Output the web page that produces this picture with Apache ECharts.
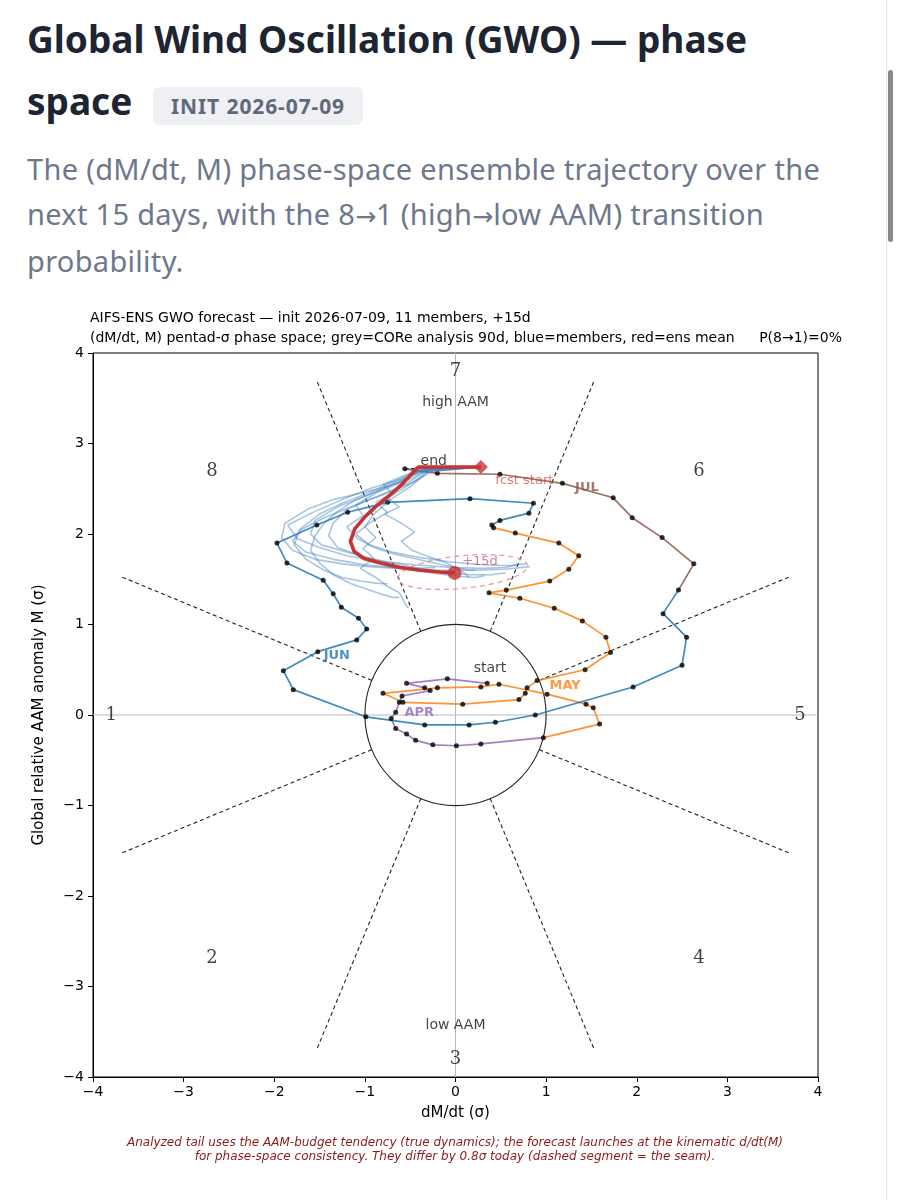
<!DOCTYPE html>
<html>
<head>
<meta charset="utf-8">
<script src="https://cdn.jsdelivr.net/npm/echarts@6/dist/echarts.min.js"></script>
<style>
html, body { margin: 0; padding: 0; background: #fff; }
body { width: 900px; height: 1200px; position: relative; overflow: hidden; font-family: 'Noto Sans', sans-serif; }
.title { position: absolute; left: 27px; top: 8px; font-size: 37px; font-weight: 700; line-height: 62px; color: #1d2432; white-space: nowrap; }
.badge { position: absolute; left: 153px; top: 87px; width: 210px; height: 38px; border-radius: 7px; background: #eef0f4; color: #5f697c; font-size: 21px; font-weight: 700; line-height: 38px; text-align: center; letter-spacing: 0.9px; }
.sub { position: absolute; left: 27px; top: 147px; font-size: 29px; line-height: 44.5px; color: #6e788c; white-space: nowrap; letter-spacing: 0.3px; }
.sub .ar { font-family: 'DejaVu Sans', sans-serif; font-size: 25px; letter-spacing: 0; }
#chart { position: absolute; left: 0; top: 290px; width: 885px; height: 910px; }
.track { position: absolute; left: 886px; top: 0; width: 1px; height: 1200px; background: #e2e2e2; }
.thumb { position: absolute; left: 888px; top: 70px; width: 5px; height: 172px; border-radius: 3px; background: #8a8a8a; }
</style>
</head>
<body>
<div class="title">Global Wind Oscillation (GWO) — phase<br>space</div>
<div class="badge">INIT 2026-07-09</div>
<div class="sub">The (dM/dt, M) phase-space ensemble trajectory over the<br>next 15 days, with the 8<span class="ar">→</span>1 (high<span class="ar">→</span>low AAM) transition<br>probability.</div>
<div id="chart"></div>
<div class="track"></div><div class="thumb"></div>
<script>
// analysed CORe tail, one point per day, split by month (dM/dt, M)
const aprPts = [[0.35,0.35],[-0.09,0.40],[-0.54,0.35],[-0.34,0.30],[-0.28,0.27],[-0.59,0.21],[-0.62,0.14],[-0.66,0.03],
    [-0.71,-0.04],[-0.66,-0.15],[-0.54,-0.21],[-0.44,-0.28],[-0.25,-0.33],[0.01,-0.34],[0.28,-0.32],[0.97,-0.25]];
const mayPts = [[1.59,-0.10],[1.52,0.08],[1.44,0.12],[1.01,0.23],[0.48,0.34],[0.28,0.31],[-0.20,0.30],[-0.80,0.24],
    [-0.58,0.14],[0.08,0.12],[0.70,0.17],[0.77,0.24],[0.79,0.30],[0.90,0.38],[1.43,0.50],[1.71,0.69],[1.66,0.86],
    [1.40,1.04],[1.09,1.18],[0.71,1.29],[0.37,1.35],[0.56,1.38],[1.04,1.48],[1.25,1.61],[1.36,1.76],[1.14,1.90],
    [0.66,2.01],[0.42,2.07],[0.40,2.10]];
const junPts = [[0.49,2.15],[0.81,2.23],[0.86,2.34],[0.16,2.39],[-0.75,2.35],[-1.19,2.24],[-1.53,2.10],[-1.97,1.90],
    [-1.86,1.68],[-1.46,1.49],[-1.35,1.34],[-1.26,1.19],[-1.07,1.07],[-0.98,0.95],[-1.09,0.83],[-1.52,0.70],
    [-1.90,0.49],[-1.79,0.28],[-0.99,-0.02],[-0.34,-0.11],[0.15,-0.11],[0.44,-0.08],[0.88,0.00],[1.96,0.31],
    [2.50,0.55],[2.55,0.86],[2.29,1.12],[2.46,1.38]];
const julPts = [[2.63,1.67],[2.28,1.96],[1.95,2.18],[1.74,2.40],[1.18,2.56],[0.49,2.66],[-0.20,2.67],[-0.56,2.72]];

// forecast: ensemble mean + 11 members, day 0..15
const fcstStart = [0.28, 2.74];
const ensMean = [[0.28,2.74],[-0.41,2.74],[-0.48,2.67],[-0.58,2.56],[-0.71,2.44],[-0.86,2.32],[-0.99,2.20],[-1.11,2.06],
    [-1.16,1.92],[-1.12,1.81],[-1.01,1.73],[-0.83,1.68],[-0.61,1.63],[-0.39,1.60],[-0.17,1.58],[-0.01,1.57]];
const member01 = [[0.28,2.74],[-0.30,2.72],[-0.55,2.55],[-0.85,2.42],[-1.15,2.30],[-1.45,2.18],[-1.70,2.05],[-1.80,1.92],[-1.65,1.80],[-1.35,1.72],[-1.00,1.66],[-0.60,1.62],[-0.20,1.60],[0.20,1.60],[0.55,1.61],[0.82,1.64]];
const member02 = [[0.28,2.74],[-0.35,2.70],[-0.62,2.60],[-0.95,2.50],[-1.25,2.38],[-1.55,2.25],[-1.85,2.10],[-1.75,1.95],[-1.50,1.85],[-1.20,1.76],[-0.85,1.70],[-0.45,1.66],[-0.05,1.63],[0.30,1.62],[0.55,1.63],[0.68,1.66]];
const member03 = [[0.28,2.74],[-0.25,2.70],[-0.45,2.58],[-0.70,2.47],[-0.95,2.38],[-1.20,2.27],[-1.35,2.12],[-1.40,1.98],[-1.30,1.85],[-1.05,1.76],[-0.75,1.69],[-0.45,1.63],[-0.15,1.58],[0.15,1.55],[0.40,1.55],[0.55,1.57]];
const member04 = [[0.28,2.74],[-0.40,2.68],[-0.70,2.55],[-0.98,2.42],[-1.30,2.30],[-1.55,2.15],[-1.60,2.00],[-1.48,1.88],[-1.20,1.80],[-0.95,1.73],[-0.70,1.66],[-0.45,1.60],[-0.20,1.56],[0.05,1.53],[0.22,1.52],[0.32,1.54]];
const member05 = [[0.28,2.74],[-0.30,2.69],[-0.50,2.52],[-0.72,2.38],[-0.90,2.22],[-1.00,2.08],[-0.88,1.96],[-1.02,1.84],[-0.90,1.73],[-1.05,1.62],[-0.88,1.52],[-0.75,1.42],[-0.62,1.35],[-0.58,1.28],[-0.55,1.22],[-0.52,1.18]];
const member06 = [[0.28,2.74],[-0.38,2.71],[-0.60,2.58],[-0.85,2.48],[-1.10,2.38],[-1.30,2.25],[-1.45,2.12],[-1.55,1.98],[-1.60,1.82],[-1.50,1.68],[-1.35,1.55],[-1.15,1.45],[-0.95,1.38],[-0.80,1.33],[-0.70,1.30],[-0.62,1.30]];
const member07 = [[0.28,2.74],[-0.28,2.73],[-0.40,2.62],[-0.58,2.50],[-0.75,2.40],[-0.62,2.30],[-0.78,2.22],[-0.60,2.12],[-0.45,2.02],[-0.60,1.92],[-0.48,1.82],[-0.30,1.75],[-0.10,1.68],[0.05,1.60],[0.12,1.55],[0.15,1.52]];
const member08 = [[0.28,2.74],[-0.33,2.70],[-0.52,2.60],[-0.78,2.52],[-1.05,2.45],[-1.35,2.38],[-1.62,2.28],[-1.88,2.12],[-1.92,1.96],[-1.80,1.82],[-1.55,1.72],[-1.25,1.67],[-0.95,1.64],[-0.65,1.62],[-0.40,1.62],[-0.22,1.63]];
const member09 = [[0.28,2.74],[-0.36,2.72],[-0.58,2.64],[-0.80,2.55],[-0.70,2.45],[-0.88,2.35],[-0.75,2.24],[-0.95,2.12],[-1.10,2.00],[-0.95,1.88],[-0.70,1.80],[-0.40,1.74],[-0.05,1.69],[0.30,1.66],[0.58,1.65],[0.78,1.67]];
const member10 = [[0.28,2.74],[-0.42,2.70],[-0.68,2.58],[-0.95,2.46],[-1.25,2.34],[-1.50,2.22],[-1.72,2.05],[-1.78,1.88],[-1.65,1.72],[-1.45,1.60],[-1.25,1.52],[-1.05,1.48],[-0.90,1.46],[-0.80,1.45],[-0.78,1.44],[-0.75,1.45]];
const member11 = [[0.28,2.74],[-0.30,2.74],[-0.48,2.66],[-0.65,2.55],[-0.88,2.45],[-1.10,2.32],[-1.02,2.20],[-1.20,2.08],[-1.08,1.95],[-0.90,1.85],[-0.68,1.78],[-0.42,1.72],[-0.15,1.66],[0.05,1.62],[0.15,1.60],[0.22,1.60]];
const members = [member01, member02, member03, member04, member05, member06, member07, member08, member09, member10, member11];

// +15d spread ellipse: centre x, centre y, half-width, half-height (sigma)
const spread15d = [0.08, 1.58, 0.72, 0.18];

// phase diagram furniture
const sectorAngles = [22.5, 67.5, 112.5, 157.5, 202.5, 247.5, 292.5, 337.5];
const phaseNames = ['1', '2', '3', '4', '5', '6', '7', '8'];
const phaseAngles = [180, 225, 270, 315, 0, 45, 90, 135];
const monthNames = ['APR', 'MAY', 'JUN', 'JUL'];
const monthColors = ['#9467bd', '#ff7f0e', '#1f77b4', '#8c564b'];
const monthLabelAt = [[-0.40, 0.03], [1.21, 0.33], [-1.31, 0.66], [1.45, 2.51]];
const axisTicks = [-4, -3, -2, -1, 0, 1, 2, 3, 4];

const FONT = "'DejaVu Sans', sans-serif";
const minus = v => v < 0 ? '\u2212' + Math.abs(v) : String(v);

const chart = echarts.init(document.getElementById('chart'), null, {renderer: 'canvas'});

const monthSegs = [aprPts, mayPts, junPts, julPts];
const analysisAll = [].concat(...monthSegs);
const series = [];

// zero lines
series.push({type: 'line', data: [[axisTicks[0], 0], [axisTicks.at(-1), 0]], showSymbol: false, silent: true,
    lineStyle: {color: '#b8b8b8', width: 1}, z: 1});
series.push({type: 'line', data: [[0, axisTicks[0]], [0, axisTicks.at(-1)]], showSymbol: false, silent: true,
    lineStyle: {color: '#b8b8b8', width: 1}, z: 1});

// sector boundaries, r = 1 .. 4
for (const a of sectorAngles) {
    const c = Math.cos(a * Math.PI / 180), s = Math.sin(a * Math.PI / 180);
    series.push({type: 'line', data: [[c, s], [4 * c, 4 * s]], showSymbol: false, silent: true,
        lineStyle: {color: '#222', width: 1.1, type: [4, 3]}, z: 2});
}

// unit circle + 15d spread ellipse
series.push({
    type: 'custom', silent: true, z: 2, data: [[0, 0]],
    renderItem: (params, api) => {
        const c = api.coord([0, 0]);
        const sz = api.size([1, 1]);
        return {type: 'circle', shape: {cx: c[0], cy: c[1], r: sz[0]},
            style: {fill: 'none', stroke: '#222', lineWidth: 1.1}};
    },
});
series.push({
    type: 'custom', silent: true, z: 3, data: [spread15d],
    renderItem: (params, api) => {
        const c = api.coord([api.value(0), api.value(1)]);
        const sz = api.size([api.value(2), api.value(3)]);
        return {type: 'ellipse', x: c[0], y: c[1], rotation: 0.1,
            shape: {cx: 0, cy: 0, rx: sz[0], ry: sz[1]},
            style: {fill: 'none', stroke: '#eb9a9f', lineWidth: 1.3, lineDash: [5, 4]}};
    },
});

// analysed tail by month (each month joined to the previous month's last day)
monthSegs.forEach((pts, i) => {
    const data = i ? [monthSegs[i - 1].at(-1), ...pts] : pts;
    series.push({type: 'line', data, showSymbol: false, silent: true,
        lineStyle: {color: monthColors[i], width: 1.7, opacity: 0.85}, z: 4});
});
series.push({type: 'scatter', data: analysisAll, symbolSize: 5, silent: true,
    itemStyle: {color: '#000'}, z: 5});

// seam between analysis end and forecast start
series.push({type: 'line', data: [julPts.at(-1), fcstStart], showSymbol: false, silent: true,
    lineStyle: {color: '#333', width: 1.2, type: [4, 2]}, z: 5});

// ensemble members
for (const m of members) {
    series.push({type: 'line', data: m, showSymbol: false, silent: true,
        lineStyle: {color: '#3f7fbf', width: 1.6, opacity: 0.45}, z: 6});
}

// ensemble mean
series.push({type: 'line', data: ensMean, showSymbol: false, silent: true,
    lineStyle: {color: '#c73232', width: 3.6}, z: 8});
series.push({type: 'scatter', data: [fcstStart], symbol: 'diamond', symbolSize: 14, silent: true,
    itemStyle: {color: '#c73232'}, z: 9});
series.push({type: 'scatter', data: [ensMean.at(-1)], symbol: 'circle', symbolSize: 14, silent: true,
    itemStyle: {color: '#c73232'}, z: 9});

// text annotations
const textSeries = (data, label, z = 10) => ({type: 'scatter', data, symbolSize: 0, silent: true, z,
    label: {show: true, position: 'inside', formatter: p => p.data[2], fontFamily: FONT, ...label}});

series.push(textSeries(phaseNames.map((n, i) => {
    const a = phaseAngles[i] * Math.PI / 180;
    return [3.8 * Math.cos(a), 3.8 * Math.sin(a), n];
}), {fontFamily: "'DejaVu Serif', serif", fontSize: 18, color: '#111'}));
series.push(textSeries([[0, 3.46, 'high AAM'], [0, -3.43, 'low AAM']], {fontSize: 14, color: '#111'}));
series.push(textSeries([[0.38, 0.51, 'start'], [-0.24, 2.80, 'end']], {fontSize: 14, color: '#111'}, 11));
series.push(textSeries([[0.76, 2.59, 'fcst start']], {fontSize: 13, color: 'rgba(205,45,45,0.8)'}, 11));
series.push(textSeries([[0.27, 1.70, '+15d']], {fontSize: 13, color: 'rgba(180,60,80,0.8)'}, 11));
monthNames.forEach((n, i) => {
    series.push(textSeries([[...monthLabelAt[i], n]], {fontSize: 13, fontWeight: 'bold', color: monthColors[i]}, 11));
});

chart.setOption({
    animation: false,
    backgroundColor: '#fff',
    grid: {left: 93, top: 63, width: 725, height: 724, show: true, borderColor: '#000', borderWidth: 1, backgroundColor: 'transparent'},
    xAxis: {
        type: 'value', min: axisTicks[0], max: axisTicks.at(-1), interval: 1,
        name: 'dM/dt (σ)', nameLocation: 'middle', nameGap: 29,
        nameTextStyle: {fontFamily: FONT, fontSize: 15, color: '#000'},
        axisLine: {show: true, onZero: false, lineStyle: {color: '#000', width: 1}},
        axisTick: {show: true, length: 5, lineStyle: {color: '#000'}},
        axisLabel: {fontFamily: FONT, fontSize: 14, color: '#000', margin: 8, formatter: minus},
        splitLine: {show: false},
    },
    yAxis: {
        type: 'value', min: axisTicks[0], max: axisTicks.at(-1), interval: 1,
        name: 'Global relative AAM anomaly M (σ)', nameLocation: 'middle', nameGap: 46, nameRotate: 90,
        nameTextStyle: {fontFamily: FONT, fontSize: 15, color: '#000'},
        axisLine: {show: true, onZero: false, lineStyle: {color: '#000', width: 1}},
        axisTick: {show: true, length: 5, lineStyle: {color: '#000'}},
        axisLabel: {fontFamily: FONT, fontSize: 14, color: '#000', margin: 9, formatter: minus},
        splitLine: {show: false},
    },
    graphic: [
        {type: 'text', x: 90, y: 28, style: {text: 'AIFS-ENS GWO forecast — init 2026-07-09, 11 members, +15d',
            font: "14px 'DejaVu Sans'", fill: '#000', verticalAlign: 'middle'}},
        {type: 'text', x: 90, y: 48, style: {text: '(dM/dt, M) pentad-σ phase space; grey=CORe analysis 90d, blue=members, red=ens mean',
            font: "14px 'DejaVu Sans'", fill: '#000', verticalAlign: 'middle'}},
        {type: 'text', x: 842, y: 48, style: {text: 'P(8→1)=0%', font: "14px 'DejaVu Sans'", fill: '#000',
            align: 'right', verticalAlign: 'middle'}},
        {type: 'text', x: 455, y: 853, style: {text: 'Analyzed tail uses the AAM-budget tendency (true dynamics); the forecast launches at the kinematic d/dt(M)',
            font: "italic 12px 'DejaVu Sans'", fill: '#8b1a1a', align: 'center', verticalAlign: 'middle'}},
        {type: 'text', x: 455, y: 867, style: {text: 'for phase-space consistency. They differ by 0.8σ today (dashed segment = the seam).',
            font: "italic 12px 'DejaVu Sans'", fill: '#8b1a1a', align: 'center', verticalAlign: 'middle'}},
    ],
    series,
});
</script>
</body>
</html>
